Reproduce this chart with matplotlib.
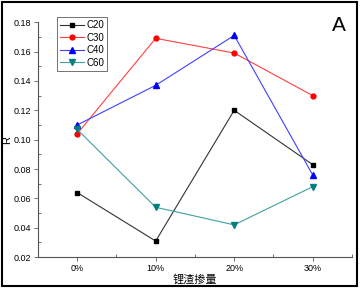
import matplotlib
matplotlib.use('Agg')
import matplotlib.pyplot as plt
from matplotlib.patches import Rectangle
from matplotlib.ticker import MultipleLocator

plt.rcParams['font.family'] = ['Liberation Sans', 'Noto Sans CJK SC', 'DejaVu Sans']

categories = ["0%", "10%", "20%", "30%"]
c20 = [0.064, 0.031, 0.120, 0.083]
c30 = [0.104, 0.169, 0.159, 0.130]
c40 = [0.110, 0.137, 0.171, 0.076]
c60 = [0.107, 0.054, 0.042, 0.068]

fig = plt.figure(figsize=(3.61, 2.88), dpi=100)
ax = fig.add_axes([0.105, 0.107, 0.87, 0.816])

x = list(range(len(categories)))
ax.plot(x, c20, color="#333333", lw=0.8, marker="s", ms=3.5, mfc="black", mec="black", label="C20")
ax.plot(x, c30, color="#ff4040", lw=0.8, marker="o", ms=3.5, mfc="red", mec="red", label="C30")
ax.plot(x, c40, color="#4040ff", lw=0.8, marker="^", ms=4.5, mfc="blue", mec="blue", label="C40")
ax.plot(x, c60, color="#40a0a0", lw=0.8, marker="v", ms=4.5, mfc="#008080", mec="#008080", label="C60")

ax.set_xlim(-0.5, 3.5)
ax.set_ylim(0.02, 0.18)
ax.set_xticks(x)
ax.set_xticklabels(categories)
ax.xaxis.set_minor_locator(MultipleLocator(0.5))
ax.yaxis.set_major_locator(MultipleLocator(0.02))
ax.yaxis.set_minor_locator(MultipleLocator(0.01))
ax.yaxis.set_major_formatter(matplotlib.ticker.FormatStrFormatter("%.2f"))
ax.tick_params(which="major", direction="out", length=3, width=0.6, labelsize=6.5, pad=2, color="#555555")
ax.tick_params(which="minor", direction="in", length=2, width=0.6, color="#555555")

for s in ["top", "right"]:
    ax.spines[s].set_visible(False)
for s in ["left", "bottom"]:
    ax.spines[s].set_color("#555555")
    ax.spines[s].set_linewidth(0.8)

ax.set_ylabel("R", fontsize=8, labelpad=1)
ax.set_xlabel("锂渣掺量", fontsize=8, labelpad=1)

leg = ax.legend(loc="upper left", bbox_to_anchor=(0.062, 1.02), fontsize=7,
                frameon=True, fancybox=False, edgecolor="#333333", handlelength=2.4,
                handletextpad=0.3, borderpad=0.3, labelspacing=0.25, borderaxespad=0)
leg.get_frame().set_linewidth(0.6)

fig.text(0.94, 0.912, "A", fontsize=15, ha="center", va="center")

fig.patches.append(Rectangle((0.006, 0.008), 0.984, 0.984, transform=fig.transFigure,
                             fill=False, edgecolor="black", lw=1.5))

plt.savefig("out.png", dpi=100)
